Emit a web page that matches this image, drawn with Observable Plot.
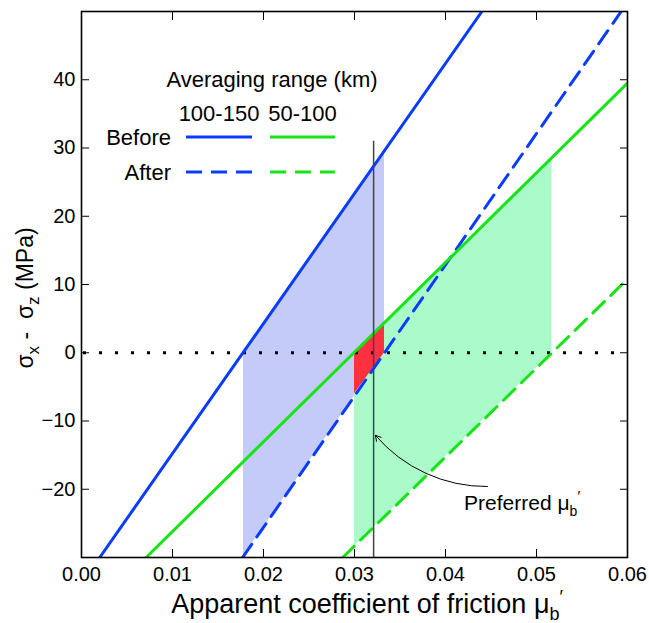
<!DOCTYPE html>
<html><head><meta charset="utf-8">
<script src="https://cdn.jsdelivr.net/npm/d3@7"></script>
<script src="https://cdn.jsdelivr.net/npm/@observablehq/plot@0.6"></script>
<style>
body{margin:0;background:#fff;font-family:"Liberation Sans",Arial,sans-serif}
#wrap{position:relative;width:649px;height:623px}
</style>
</head><body><div id="wrap"></div>
<script>
// ---- data ----
const xTicks = [0, 0.01, 0.02, 0.03, 0.04, 0.05, 0.06];
const yTicks = [-20, -10, 0, 10, 20, 30, 40];

const lineRange  = ["100-150", "100-150", "50-100", "50-100"];
const lineStage  = ["Before", "After", "Before", "After"];
const lineXStart = [0.0020, 0.0177, 0.0071, 0.0287];
const lineYStart = [-30, -30, -30, -30];
const lineXEnd   = [0.0440, 0.0593, 0.0600, 0.0600];
const lineYEnd   = [50, 50, 39.5, 10.8];

const regionName  = ["100-150", "50-100", "overlap"];
const regionX0    = [0.0178, 0.0300, 0.0300];
const regionX1    = [0.0333, 0.0517, 0.0333];
const regionLow0  = [-29.8, -28.3, -6.0];
const regionLow1  = [0, 0, 0];
const regionHigh0 = [0, 0, 0];
const regionHigh1 = [29.6, 28.6, 4.4];

const preferredMu = 0.0321;
const preferredTop = 31;
const arrowFrom = [0.0446, -19.6];
const arrowTo = [0.0323, -12.1];
const notePos = [0.0421, -22.1];
const noteText = "Preferred μ";

const legendTitle = "Averaging range (km)";
const legendColumns = ["100-150", "50-100"];
const legendRows = ["Before", "After"];

// ---- styles ----
const lineColor = {"100-150": "#0a3cff", "50-100": "#17e417"};
const regionFill = {"100-150": "#c5cbf8", "50-100": "#abfbca", "overlap": "#ff3040"};
const stageDash = {"Before": null, "After": "16,9"};

const lines = lineRange.map((r, i) => ({
  range: r, stage: lineStage[i],
  pts: [{x: lineXStart[i], y: lineYStart[i]}, {x: lineXEnd[i], y: lineYEnd[i]}]
}));
const regions = regionName.map((n, i) => ({
  name: n,
  pts: [{x: regionX0[i], lo: regionLow0[i], hi: regionHigh0[i]},
        {x: regionX1[i], lo: regionLow1[i], hi: regionHigh1[i]}]
}));

const W = 649, H = 623, mL = 81, mR = 22, mT = 11, mB = 66;
const FONT = "Liberation Sans, Arial, sans-serif";

const plot = Plot.plot({
  width: W, height: H,
  marginLeft: mL, marginRight: mR, marginTop: mT, marginBottom: mB,
  style: {fontFamily: FONT, background: "#fff", color: "#000"},
  x: {domain: [0, 0.06]},
  y: {domain: [-30, 50]},
  marks: [
    ...regions.map(r => Plot.areaY(r.pts, {x: "x", y1: "lo", y2: "hi", fill: regionFill[r.name], clip: true})),
    Plot.ruleY([0], {stroke: "#000", strokeWidth: 3, strokeDasharray: "3,13", strokeDashoffset: -2}),
    ...lines.map(l => Plot.line(l.pts, {x: "x", y: "y", stroke: lineColor[l.range], strokeWidth: 3,
      strokeDasharray: stageDash[l.stage], clip: true})),
    Plot.ruleX([preferredMu], {y1: -30, y2: preferredTop, stroke: "#444", strokeWidth: 1.5}),
    Plot.arrow([{x1: arrowFrom[0], y1: arrowFrom[1], x2: arrowTo[0], y2: arrowTo[1]}],
      {x1: "x1", y1: "y1", x2: "x2", y2: "y2", bend: 25, stroke: "#000", strokeWidth: 1, headLength: 9}),
    Plot.axisY(yTicks, {anchor: "left", tickSize: -8, tickPadding: 14, fontSize: 20, label: null}),
    Plot.axisY(yTicks, {anchor: "right", tickSize: -8, tickFormat: () => "", label: null}),
    Plot.axisX(xTicks, {anchor: "bottom", tickSize: -8, tickPadding: 17, fontSize: 20, tickFormat: d3.format(".2f"), label: null}),
    Plot.axisX(xTicks, {anchor: "top", tickSize: -8, tickFormat: () => "", label: null}),
    Plot.frame({stroke: "#000", strokeWidth: 1.6})
  ]
});
document.getElementById("wrap").appendChild(plot);

const svg = d3.select(plot);
const sx = plot.scale("x"), sy = plot.scale("y");

// annotation text, placed through the plot's scales
const note = svg.append("text").attr("x", sx.apply(notePos[0])).attr("y", sy.apply(notePos[1]))
  .attr("dy", "0.35em").attr("text-anchor", "start")
  .attr("font-family", FONT).attr("font-size", 21).attr("fill", "#000");
note.append("tspan").text(noteText);
note.append("tspan").attr("dy", 6).attr("font-size", 14).text("b");
note.append("tspan").attr("dy", -15).attr("font-size", 15).text("′");

// axis labels
const xl = svg.append("text").attr("x", 367).attr("y", 613).attr("text-anchor", "middle")
  .attr("font-family", FONT).attr("font-size", 27).attr("fill", "#000");
xl.append("tspan").text("Apparent coefficient of friction μ");
xl.append("tspan").attr("dy", 7).attr("font-size", 18).text("b");
xl.append("tspan").attr("dy", -17).attr("font-size", 18).text("′");

const yl = svg.append("text").attr("transform", "translate(33,298) rotate(-90)").attr("text-anchor", "middle")
  .attr("font-family", FONT).attr("font-size", 23).attr("fill", "#000");
yl.append("tspan").text("σ");
yl.append("tspan").attr("dy", 6).attr("font-size", 17).text("x");
yl.append("tspan").attr("dy", -6).text(" -  σ");
yl.append("tspan").attr("dy", 6).attr("font-size", 17).text("z");
yl.append("tspan").attr("dy", -6).text(" (MPa)");

// legend
const lg = svg.append("g").attr("font-family", FONT).attr("font-size", 22).attr("fill", "#000");
lg.append("text").attr("x", 272).attr("y", 79).attr("dy", "0.35em").attr("text-anchor", "middle").text(legendTitle);
const colX = [[186, 252], [270, 335]];
legendColumns.forEach((c, j) => {
  lg.append("text").attr("x", (colX[j][0] + colX[j][1]) / 2).attr("y", 113).attr("dy", "0.35em")
    .attr("text-anchor", "middle").text(c);
});
const rowY = [137, 172];
legendRows.forEach((r, i) => {
  lg.append("text").attr("x", 171).attr("y", rowY[i]).attr("dy", "0.35em").attr("text-anchor", "end").text(r);
  legendColumns.forEach((c, j) => {
    lg.append("line").attr("x1", colX[j][0]).attr("x2", colX[j][1]).attr("y1", rowY[i]).attr("y2", rowY[i])
      .attr("stroke", lineColor[c]).attr("stroke-width", 3)
      .attr("stroke-dasharray", stageDash[r]);
  });
});
</script>
</body></html>
